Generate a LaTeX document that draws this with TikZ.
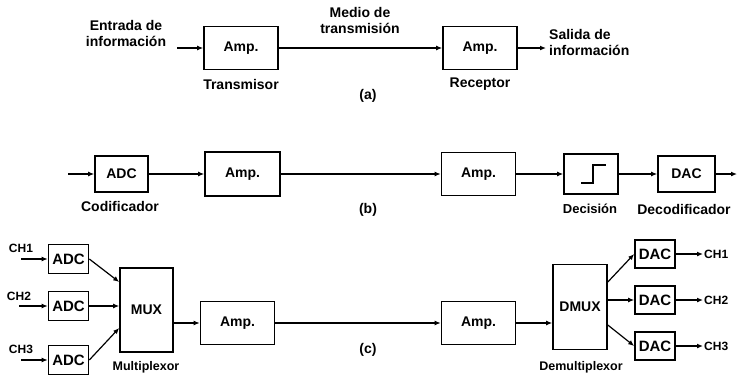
\documentclass[tikz,border=0pt]{standalone}
\usepackage{fontspec}
\setmainfont{Liberation Sans}
\usetikzlibrary{arrows.meta,positioning}

\begin{document}
\begin{tikzpicture}[x=1pt,y=-1pt,font=\bfseries\fontsize{14}{16}\selectfont,
  blk/.style={draw,line width=1.6pt,inner sep=1pt,align=center},
  amp/.style={blk,minimum width=74pt,minimum height=43pt},
  conv/.style={blk,minimum width=40pt,minimum height=28pt,font=\bfseries\fontsize{15}{17}\selectfont},
  lbl/.style={inner sep=1pt,align=center},
  small/.style={lbl,font=\bfseries\fontsize{12.5}{15}\selectfont},
  chan/.style={inner sep=1pt,font=\bfseries\fontsize{12}{14}\selectfont},
  ln/.style={line width=1.2pt},
  arr/.style={ln,-{Latex[length=6pt,width=5pt]}}]
\useasboundingbox (0,0) rectangle (739,378);
% (a) sistema analogico
\node[lbl] (ina) at (126,33) {Entrada de\\información};
\node[amp] (txa) at (241,48) {Amp.};
\node[amp] (rxa) at (480,48) {Amp.};
\node[lbl] (medio) at (360,20) {Medio de\\transmisión};
\node[lbl] (trans) at (241,84) {Transmisor};
\node[lbl] (recep) at (480,84) {Receptor};
\node[lbl,align=left,anchor=west,inner sep=3pt] (outa) at (546,42) {Salida de\\información};
\node[lbl] (capa) at (368,96) {(a)};
\draw[arr] ([xshift=10pt]ina.east |- txa.west) -- (txa.west);
\draw[arr] (txa) -- (rxa);
\draw[arr] (rxa) -- (rxa -| outa.west);
% (b) sistema digital
\coordinate (inb) at (68,174);
\coordinate (outb) at (737,174);
\node[blk,minimum width=53pt,minimum height=36pt] (adcb) at (121.5,174) {ADC};
\node[amp,minimum width=75pt,minimum height=44pt] (txb) at (242.5,174) {Amp.};
\node[amp] (rxb) at (478.5,174) {Amp.};
\node[blk,minimum width=54pt,minimum height=40pt] (dec) at (591,174) {};
\node[blk,minimum width=57pt,minimum height=36pt] (dacb) at (686.5,174) {DAC};
\draw[line width=1.6pt] ([shift={(-10,9)}]dec.center) -- ++(12,0) -- ++(0,-18) -- ++(13,0);
\node[lbl] (codif) at (120,206) {Codificador};
\node[lbl,font=\bfseries\fontsize{13}{16}\selectfont] (decis) at (590,209) {Decisión};
\node[lbl] (decod) at (684,209) {Decodificador};
\node[lbl] (capb) at (368,210) {(b)};
\draw[arr] (inb) -- (adcb);
\draw[arr] (adcb) -- (txb);
\draw[arr] (txb) -- (rxb);
\draw[arr] (rxb) -- (dec);
\draw[arr] (dec) -- (dacb);
\draw[arr] (dacb) -- (outb);
% (c) multiplexado
\node[conv,minimum height=29pt] (adc1) at (68.5,259) {ADC};
\node[conv,minimum height=29pt] (adc2) at (68.5,306) {ADC};
\node[conv,minimum height=29pt] (adc3) at (68.5,360) {ADC};
\node[chan] (chi1) at (21,248) {CH1};
\node[chan] (chi2) at (19,296) {CH2};
\node[chan] (chi3) at (21,349) {CH3};
\node[blk,minimum width=53pt,minimum height=84pt] (mux) at (146.5,310) {MUX};
\node[amp] (txc) at (237.5,323) {Amp.};
\node[amp] (rxc) at (478.5,323) {Amp.};
\node[blk,minimum width=54pt,minimum height=85pt] (dmux) at (580,307) {DMUX};
\node[conv] (dac1) at (655,254) {DAC};
\node[conv] (dac2) at (655,300) {DAC};
\node[conv] (dac3) at (655,346) {DAC};
\node[chan,anchor=west] (cho1) at (703,254) {CH1};
\node[chan,anchor=west] (cho2) at (703,300) {CH2};
\node[chan,anchor=west] (cho3) at (703,346) {CH3};
\node[small] (multi) at (146,367) {Multiplexor};
\node[small] (demulti) at (581,367) {Demultiplexor};
\node[lbl] (capc) at (368,350) {(c)};
\draw[arr] (chi1.south |- adc1) -- (adc1);
\draw[arr] (chi2.south |- adc2) -- (adc2);
\draw[arr] (chi3.south |- adc3) -- (adc3);
\draw[arr] (adc1.east) -- ([yshift=28pt]mux.west);
\draw[arr] (adc2) -- (adc2 -| mux.west);
\draw[arr] (adc3.east) -- ([yshift=-18pt]mux.west);
\draw[arr] (mux.east |- txc) -- (txc);
\draw[arr] (txc) -- (rxc);
\draw[arr] (rxc) -- (rxc -| dmux.west);
\draw[arr] ([yshift=25pt]dmux.east) -- (dac1.west);
\draw[arr] (dac2 -| dmux.east) -- (dac2);
\draw[arr] ([yshift=-18pt]dmux.east) -- (dac3.west);
\draw[arr] (dac1) -- (cho1);
\draw[arr] (dac2) -- (cho2);
\draw[arr] (dac3) -- (cho3);
\end{tikzpicture}
\end{document}
